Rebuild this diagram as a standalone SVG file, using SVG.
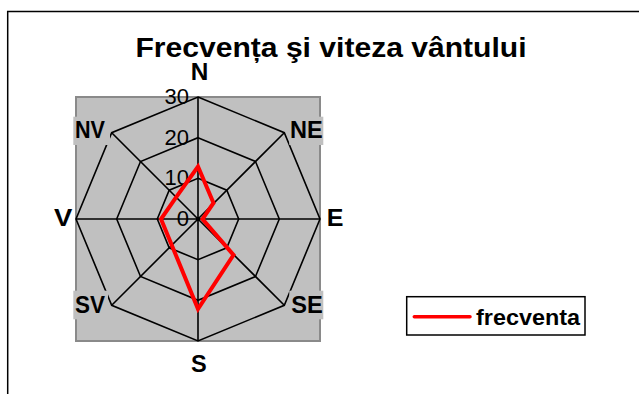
<svg xmlns="http://www.w3.org/2000/svg" width="639" height="394" viewBox="0 0 639 394">
<style>
text{font-family:"Liberation Sans",Arial,sans-serif;fill:#000}
.ax{font-size:23px;font-weight:bold}
.val{font-size:22px;text-anchor:end}
.grid{fill:none;stroke:#000;stroke-width:1.6}
.lbl{fill:#C0C0C0}
</style>
<rect x="0" y="0" width="639" height="394" fill="#fff"/>
<g id="frame">
<path d="M7.7 394 V11.5 H639" fill="none" stroke="#000" stroke-width="1.5"/>
</g>
<g id="title">
<text x="331" y="56.5" font-size="28" font-weight="bold" text-anchor="middle" textLength="391" lengthAdjust="spacingAndGlyphs">Frecvența şi viteza vântului</text>
</g>
<g id="plot">
<rect x="76" y="97" width="244" height="244" fill="#C0C0C0" stroke="#8a8a8a" stroke-width="2"/>
<g id="rings">
<polygon class="grid" points="198,97 284.3,132.7 320,219 284.3,305.3 198,341 111.7,305.3 76,219 111.7,132.7"/>
<polygon class="grid" points="198,137.7 255.5,161.5 279.3,219 255.5,276.5 198,300.3 140.5,276.5 116.7,219 140.5,161.5"/>
<polygon class="grid" points="198,178.3 226.8,190.2 238.7,219 226.8,247.8 198,259.7 169.2,247.8 157.3,219 169.2,190.2"/>
</g>
<g id="spokes">
<path class="grid" d="M198 219 V97 M198 219 L284.3 132.7 M198 219 H320 M198 219 L284.3 305.3 M198 219 V341 M198 219 L111.7 305.3 M198 219 H76 M198 219 L111.7 132.7"/>
</g>
</g>
<g id="values">
<text class="val" x="189" y="103.5">30</text>
<text class="val" x="189" y="144.5">20</text>
<text class="val" x="189" y="185">10</text>
<text class="val" x="189" y="226">0</text>
</g>
<g id="series">
<polygon points="198,166.5 213.5,203 202.5,219 233.5,255 198,309 171.8,245.2 161,219 176.2,197.2" fill="none" stroke="#FF0000" stroke-width="4" stroke-linejoin="miter"/>
</g>
<g id="axis-labels">
<g id="label-N"><text class="ax" x="190.7" y="80" textLength="17.6" lengthAdjust="spacingAndGlyphs">N</text></g>
<g id="label-NE"><rect class="lbl" x="289.3" y="116.7" width="34" height="28.3"/><text class="ax" x="290" y="138.3" textLength="32.7" lengthAdjust="spacingAndGlyphs">NE</text></g>
<g id="label-E"><text class="ax" x="326.7" y="226" textLength="16.7" lengthAdjust="spacingAndGlyphs">E</text></g>
<g id="label-SE"><rect class="lbl" x="289.3" y="290.7" width="34" height="28.6"/><text class="ax" x="291.2" y="313.3" textLength="31.5" lengthAdjust="spacingAndGlyphs">SE</text></g>
<g id="label-S"><text class="ax" x="191" y="371.5" textLength="15.7" lengthAdjust="spacingAndGlyphs">S</text></g>
<g id="label-SV"><rect class="lbl" x="73.3" y="290.7" width="34.7" height="28.6"/><text class="ax" x="75" y="313.3" textLength="30" lengthAdjust="spacingAndGlyphs">SV</text></g>
<g id="label-V"><text class="ax" x="54" y="225.5" textLength="18.3" lengthAdjust="spacingAndGlyphs">V</text></g>
<g id="label-NV"><rect class="lbl" x="73.3" y="116.7" width="36.7" height="28.3"/><text class="ax" x="75" y="138.3" textLength="30" lengthAdjust="spacingAndGlyphs">NV</text></g>
</g>
<g id="legend">
<rect x="406.7" y="296.7" width="178.3" height="38.3" fill="#fff" stroke="#000" stroke-width="1.5"/>
<line x1="414.3" y1="316.7" x2="470" y2="316.7" stroke="#FF0000" stroke-width="3.5" stroke-linecap="round"/>
<text x="476" y="325" font-size="22.5" font-weight="bold" textLength="104" lengthAdjust="spacingAndGlyphs">frecventa</text>
</g>
</svg>
